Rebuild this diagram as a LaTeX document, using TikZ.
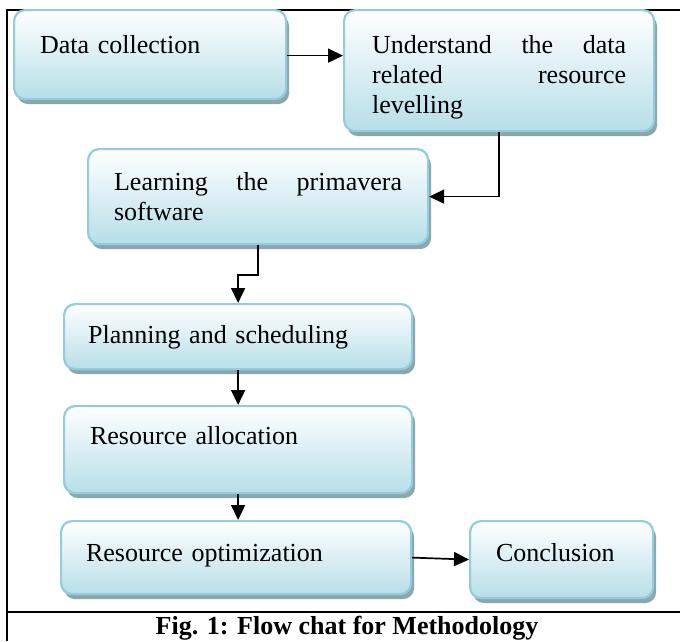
\documentclass[tikz,border=0pt]{standalone}
\usepackage{fontspec}
\setmainfont{Liberation Serif}
\usetikzlibrary{arrows.meta,shadows}
\definecolor{boxborder}{RGB}{147,204,221}
\definecolor{boxbottom}{RGB}{183,222,232}
\definecolor{shadowc}{RGB}{140,166,174}
\tikzset{
  flowbox/.style={rectangle, rounded corners=11pt, draw=boxborder, line width=2.2pt,
    top color=white, bottom color=boxbottom, inner ysep=0pt, align=left,
    font=\fontsize{26}{30}\selectfont,
    drop shadow={shadow xshift=3pt, shadow yshift=-5pt, fill=shadowc, opacity=1}},
  frameline/.style={line width=2.6pt, black},
  flowarrow/.style={line width=1.7pt, black, -{Triangle[length=15pt,width=14pt]}}
}
\begin{document}
\begin{tikzpicture}[x=1pt,y=-1pt]
\useasboundingbox (0,0) rectangle (680,641);
% frame
\draw[frameline] (7,641) -- (7,10) -- (680,10);
\draw[frameline] (7,612) -- (680,612);
% boxes
\node[flowbox, anchor=north west, inner xsep=26pt, text width=220pt, text height=43pt, text depth=46pt] (b1) at (13,9) {Data collection};
\node[flowbox, anchor=north west, inner xsep=28pt, text width=254pt, text height=43pt, text depth=78pt] (b2) at (343,9) {Understand\hfill the\hfill data\\related\hfill resource\\levelling};
\node[flowbox, anchor=north west, inner xsep=26pt, text width=288pt, text height=41pt, text depth=54pt] (b3) at (87,148) {Learning\hfill the\hfill primavera\\software};
\node[flowbox, anchor=north west, inner xsep=24pt, text width=300pt, text height=39pt, text depth=26pt] (b4) at (63,303) {Planning and scheduling};
\node[flowbox, anchor=north west, inner xsep=26pt, text width=296pt, text height=38pt, text depth=49pt] (b5) at (63,405) {Resource allocation};
\node[flowbox, anchor=north west, inner xsep=25pt, text width=300pt, text height=40pt, text depth=33pt] (b6) at (60,520) {Resource optimization};
\node[flowbox, anchor=north west, inner xsep=26pt, text width=131pt, text height=40pt, text depth=37pt] (b7) at (469,520) {Conclusion};
% caption
\node[anchor=base, inner sep=0pt, font=\fontsize{26}{30}\selectfont\bfseries] (cap) at (347,634) {Fig. 1: Flow chat for Methodology};
% connectors
\draw[flowarrow] ([yshift=-1pt]b1.east) -- ([yshift=-1pt]b1.east -| b2.west);
\draw[flowarrow] (b2.south) |- (b3.east);
\draw[flowarrow] (b3.south) -- ++(0,30) -| (b4.north);
\draw[flowarrow] (b4.south) -- (b5.north);
\draw[flowarrow] (b5.south) -- (b5.south |- b6.north);
\draw[flowarrow] (b6.east) -- (b7.west);
\end{tikzpicture}
\end{document}
